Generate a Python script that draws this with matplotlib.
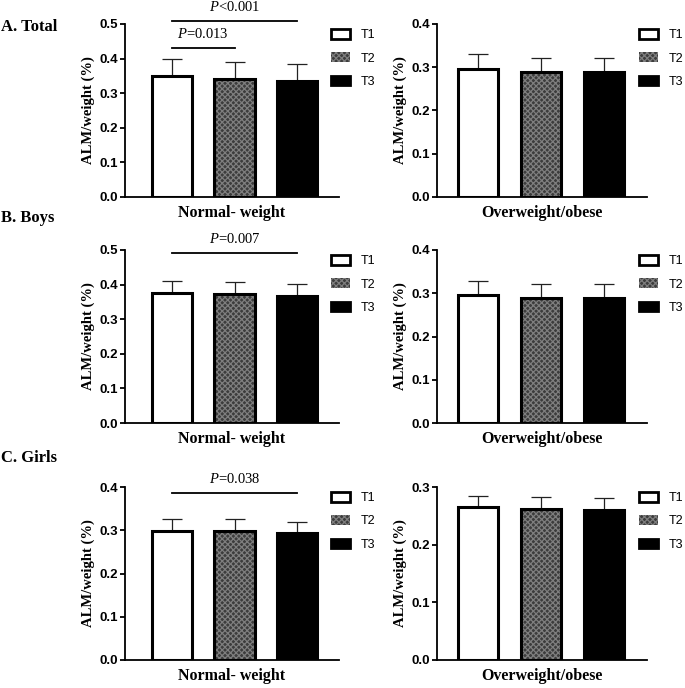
import numpy as np
import matplotlib
matplotlib.use("Agg")
import matplotlib.pyplot as plt
from matplotlib.patches import Patch

plt.rcParams['mathtext.fontset'] = 'custom'
plt.rcParams['mathtext.it'] = 'Liberation Serif:italic'
plt.rcParams['mathtext.rm'] = 'Liberation Serif'
plt.rcParams['hatch.linewidth'] = 0.9

groups = ["T1", "T2", "T3"]
panels = ["A. Total", "B. Boys", "C. Girls"]
xlabels = ["Normal- weight", "Overweight/obese"]

# means and upper error (mean + SD)
normal_mean = [[0.350, 0.340, 0.336],
               [0.376, 0.374, 0.368],
               [0.299, 0.298, 0.294]]
normal_top = [[0.398, 0.390, 0.384],
              [0.410, 0.407, 0.402],
              [0.325, 0.327, 0.318]]
over_mean = [[0.297, 0.288, 0.288],
             [0.297, 0.288, 0.288],
             [0.266, 0.261, 0.260]]
over_top = [[0.330, 0.321, 0.322],
            [0.329, 0.321, 0.322],
            [0.285, 0.282, 0.281]]

normal_ymax = [0.5, 0.5, 0.4]
over_ymax = [0.4, 0.4, 0.3]

# significance brackets: (panel, from, to, y, label)
sig = [(0, 0, 2, 0.51, r"$\mathit{P}$<0.001"),
       (0, 0, 1, 0.431, r"$\mathit{P}$=0.013"),
       (1, 0, 2, 0.492, r"$\mathit{P}$=0.007"),
       (2, 0, 2, 0.387, r"$\mathit{P}$=0.038")]

W, H = 685, 688
fig = plt.figure(figsize=(W / 100, H / 100), dpi=100)

row_px = [(24, 197), (250, 423), (487, 660)]
label_y = [27, 218, 458]
x = np.arange(3)
bw = 0.64
t2_face, t2_hatch = '#3c3c3c', '#7e7e7e'


def fx(p):
    return p / W


def fy(p):
    return 1 - p / H


def draw_bars(ax, means, tops, ymax):
    means = np.array(means)
    err = np.array(tops) - means
    ax.errorbar(x, means, yerr=[np.zeros(3), err], fmt='none', ecolor='#222222',
                elinewidth=0.9, capsize=7, capthick=0.9, zorder=1)
    ax.bar(x[0], means[0], bw, color='white', edgecolor='black', lw=2.2, zorder=2)
    ax.bar(x[1], means[1], bw, color=t2_face, edgecolor=t2_hatch, hatch='xxxxxx', lw=0, zorder=2)
    ax.bar(x[1], means[1], bw, color='none', edgecolor='black', lw=2.2, zorder=3)
    ax.bar(x[2], means[2], bw, color='black', edgecolor='black', lw=2.2, zorder=2)
    ax.set_ylim(0, ymax)
    ticks = np.arange(0, ymax + 0.001, 0.1)
    ax.set_yticks(ticks)
    ax.set_yticklabels(["%.1f" % v for v in ticks],
                       fontfamily='Liberation Sans', fontweight='bold', fontsize=9.5)
    ax.set_xticks([])
    for s in ['top', 'right']:
        ax.spines[s].set_visible(False)
    for s in ['left', 'bottom']:
        ax.spines[s].set_linewidth(1.3)
    ax.tick_params(axis='y', length=3.5, width=1.3, pad=1.5)
    ax.set_ylabel("ALM/weight (%)", fontfamily='Liberation Serif', fontweight='bold',
                  fontsize=10.5, labelpad=3)


def add_legend(ax, xpx, ypx):
    handles = [Patch(facecolor='white', edgecolor='black', lw=2),
               Patch(facecolor=t2_face, edgecolor=t2_hatch, hatch='xxxxxx', lw=0),
               Patch(facecolor='black', edgecolor='black', lw=2)]
    leg = ax.legend(handles, groups, loc='upper left', bbox_to_anchor=(fx(xpx), fy(ypx)),
                    bbox_transform=fig.transFigure, frameon=False, borderpad=0,
                    borderaxespad=0, handlelength=1.5, handleheight=0.8,
                    handletextpad=0.85, labelspacing=0.9,
                    prop={'family': 'Liberation Sans', 'size': 9})
    return leg


for r in range(3):
    top, bot = row_px[r]
    axl = fig.add_axes([fx(125), fy(bot), fx(339 - 125), (bot - top) / H])
    draw_bars(axl, normal_mean[r], normal_top[r], normal_ymax[r])
    axl.set_xlim(-0.75, 2.67)
    axl.set_xlabel(xlabels[0], fontfamily='Liberation Serif', fontweight='bold',
                   fontsize=11.5, labelpad=6)
    add_legend(axl, 331, top + 5)

    axr = fig.add_axes([fx(437), fy(bot), fx(647 - 437), (bot - top) / H])
    draw_bars(axr, over_mean[r], over_top[r], over_ymax[r])
    axr.set_xlim(-0.65, 2.68)
    axr.set_xlabel(xlabels[1], fontfamily='Liberation Serif', fontweight='bold',
                   fontsize=11.5, labelpad=6)
    add_legend(axr, 639, top + 5)

    for p, a, b, yv, txt in sig:
        if p != r:
            continue
        axl.plot([a, b], [yv, yv], color='black', lw=1.3, clip_on=False, zorder=4)
        axl.annotate(txt, xy=((a + b) / 2, yv), xytext=(0, 5), textcoords='offset points',
                     ha='center', va='bottom', fontfamily='Liberation Serif',
                     fontsize=10.5, annotation_clip=False)

    fig.text(fx(1), fy(label_y[r]), panels[r], ha='left', va='center',
             fontfamily='Liberation Serif', fontweight='bold', fontsize=12)

fig.savefig("out.png", dpi=100)
